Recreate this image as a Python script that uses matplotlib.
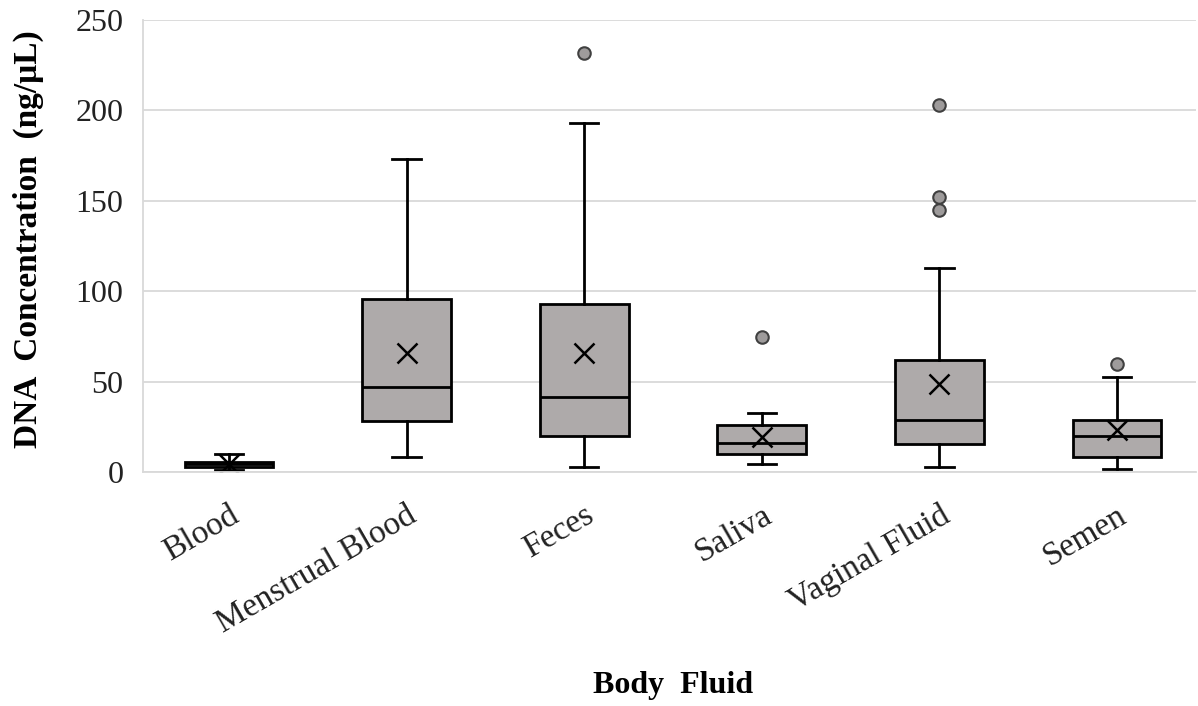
import matplotlib
matplotlib.use("Agg")
import matplotlib.pyplot as plt

plt.rcParams["font.family"] = ["Liberation Serif", "DejaVu Serif"]

# values (ng/uL)
fluids = ["Blood", "Menstrual Blood", "Feces", "Saliva", "Vaginal Fluid", "Semen"]
whisker_low = [1.0, 8.3, 2.8, 4.3, 2.8, 1.5]
q1 = [3.0, 28.2, 19.9, 9.8, 15.5, 8.1]
median = [4.3, 47.0, 41.5, 15.9, 28.8, 19.9]
q3 = [5.6, 95.7, 92.9, 26.0, 62.0, 28.8]
whisker_high = [10.0, 173.0, 193.0, 32.8, 112.8, 52.7]
means = [4.5, 65.8, 65.8, 19.5, 48.7, 23.2]
outliers = [[], [], [231.7], [74.7], [203.0, 152.0, 145.0], [59.7]]

stats = []
for i in range(len(fluids)):
    stats.append({
        "label": fluids[i],
        "whislo": whisker_low[i],
        "q1": q1[i],
        "med": median[i],
        "q3": q3[i],
        "whishi": whisker_high[i],
        "mean": means[i],
        "fliers": outliers[i],
    })

fig = plt.figure(figsize=(11.98, 7.06), dpi=100)
ax = fig.add_axes([0.1194, 0.3314, 0.879, 0.6403])

ax.yaxis.grid(True, color="#d9d9d9", linewidth=1.3)
ax.set_axisbelow(True)

lw = 2.0
positions = list(range(1, len(fluids) + 1))
ax.bxp(stats, positions=positions, widths=0.5, patch_artist=True,
       showmeans=True, showfliers=True,
       boxprops=dict(facecolor="#aeaaaa", edgecolor="black", linewidth=lw),
       medianprops=dict(color="black", linewidth=lw),
       whiskerprops=dict(color="black", linewidth=lw),
       capprops=dict(color="black", linewidth=lw),
       capwidths=0.16,
       meanprops=dict(marker="x", markersize=15, markeredgecolor="black",
                      markeredgewidth=1.8),
       flierprops=dict(marker="o", markersize=9, markerfacecolor="#9e9b9b",
                       markeredgecolor="#404040", markeredgewidth=1.5))

ax.set_xlim(0.516, 6.445)
ax.set_ylim(0, 250)
ax.set_yticks([0, 50, 100, 150, 200, 250])
ax.tick_params(axis="y", length=0, labelsize=23, colors="#222222", pad=14)
ax.tick_params(axis="x", length=0, labelsize=24, colors="#222222", pad=20)
ax.set_xticks(positions)
ax.set_xticklabels(fluids, rotation=30, ha="right", rotation_mode="anchor")

for side in ["top", "right"]:
    ax.spines[side].set_visible(False)
for side in ["left", "bottom"]:
    ax.spines[side].set_color("#d9d9d9")
    ax.spines[side].set_linewidth(1.3)

ax.set_ylabel("DNA  Concentration  (ng/\u03bcL)", fontsize=24, fontweight="bold")
ax.yaxis.set_label_coords(-0.094, 0.515)
fig.text(0.562, 0.018, "Body  Fluid", fontsize=23, fontweight="bold", ha="center")

fig.savefig("out.png", dpi=100)
